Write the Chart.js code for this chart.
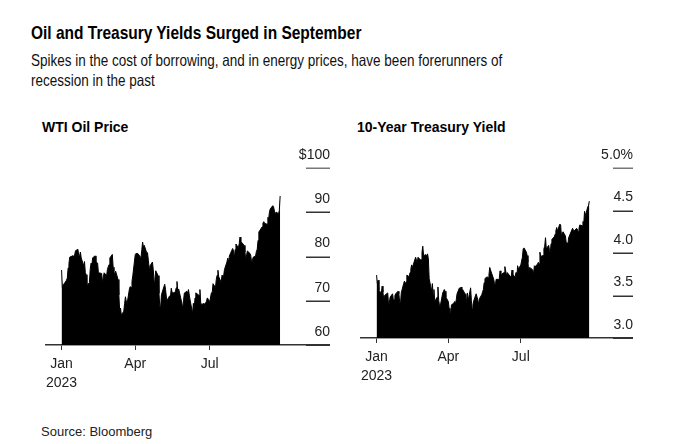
<!DOCTYPE html>
<html>
<head>
<meta charset="utf-8">
<script src="https://cdn.jsdelivr.net/npm/chart.js@4/dist/chart.umd.min.js"></script>
<style>
  body { margin: 0; background: #fff; font-family: 'Liberation Sans', Arial, sans-serif; color: #000; }
  #page { position: relative; width: 685px; height: 444px; overflow: hidden; }
  .txt { position: absolute; white-space: nowrap; }
  /* headline font is a condensed grotesque, squeeze Liberation Sans to match */
  #headline { left: 31px; top: 21px; font: bold 19px/24px 'Liberation Sans', Arial, sans-serif; transform: scaleX(0.815); transform-origin: 0 0; }
  #subtitle { left: 31px; top: 50px; font: 16.5px/20px 'Liberation Sans', Arial, sans-serif; color: #111; transform: scaleX(0.818); transform-origin: 0 0; }
  .panel-title { top: 118px; font: bold 14px/18px 'Liberation Sans', Arial, sans-serif; }
  #source { left: 41px; top: 424px; font: 13px/16px 'Liberation Sans', Arial, sans-serif; color: #222; }
  canvas { position: absolute; }
</style>
</head>
<body>
<div id="page">
  <div id="headline" class="txt">Oil and Treasury Yields Surged in September</div>
  <div id="subtitle" class="txt">Spikes in the cost of borrowing, and in energy prices, have been forerunners of<br>recession in the past</div>
  <div class="txt panel-title" style="left:42px">WTI Oil Price</div>
  <div class="txt panel-title" style="left:357px">10-Year Treasury Yield</div>
  <canvas id="oilChart" width="288" height="255" style="left:42px; top:140px"></canvas>
  <canvas id="yieldChart" width="276" height="248" style="left:357px; top:140px"></canvas>
  <div id="source" class="txt">Source: Bloomberg</div>
</div>

<script>
// daily closes, Jan 3 - Sep 27 2023 (one value per trading day)
const oilPrice = [
  76.93, 72.84, 73.67, 73.77, 74.63, 75.12, 77.41, 78.39, 79.86, 80.18, 79.48, 80.33, 81.31, 81.62, 80.13, 80.15, 81.01, 79.68, 77.90, 78.87,
  76.41, 75.88, 73.39, 74.11, 77.14, 78.47, 78.06, 79.72, 80.14, 79.06, 78.59, 78.49, 76.34, 76.16, 73.95, 75.39, 76.32, 75.68, 77.05,
  77.69, 78.16, 79.68, 80.46, 77.58, 76.66, 75.72, 76.68, 74.80, 71.33, 67.61, 68.35, 66.74, 67.64, 69.33, 70.90, 69.96, 69.26, 72.81, 73.20, 72.97, 74.37, 75.67,
  80.42, 80.71, 80.61, 80.70, 79.74, 81.53, 83.26, 82.16, 82.52, 80.83, 80.86, 79.16, 77.37, 77.87, 78.76, 77.07, 74.30, 74.76, 76.78,
  75.66, 71.66, 68.60, 68.56, 71.34, 73.16, 73.71, 72.56, 70.87, 70.04, 71.11, 70.86, 72.83, 71.86, 71.69, 71.99, 72.91, 74.34, 71.83, 72.67, 69.46, 68.09,
  70.10, 71.74, 72.15, 71.74, 72.53, 71.29, 70.17, 67.12, 69.42, 68.27, 70.62, 71.78, 71.19, 72.53, 69.51, 69.16, 69.37, 67.70, 69.56, 69.86, 70.64,
  69.79, 71.79, 71.80, 73.86, 72.99, 74.83, 75.75, 76.89, 75.42, 74.15, 75.75, 75.35, 75.63, 77.07, 78.74, 79.63, 78.78, 80.09, 80.58, 81.80,
  81.37, 79.49, 81.55, 82.82, 81.94, 82.92, 84.40, 82.82, 83.19, 82.51, 80.99, 79.38, 80.39, 81.25, 80.72, 80.35, 78.89, 79.05, 79.83, 80.10, 81.16, 81.63, 83.63,
  85.55, 86.69, 87.54, 87.87, 87.51, 87.29, 88.84, 88.52, 90.16, 90.77, 91.48, 91.20, 90.28, 89.63, 90.03, 89.68, 90.39, 93.68
];

const treasuryYield = [
  3.74, 3.64, 3.68, 3.56, 3.53, 3.61, 3.54, 3.45, 3.50, 3.53, 3.40, 3.41, 3.48, 3.52, 3.46, 3.45, 3.50, 3.52, 3.55, 3.52,
  3.42, 3.40, 3.53, 3.64, 3.67, 3.63, 3.66, 3.74, 3.72, 3.77, 3.81, 3.86, 3.83, 3.95, 3.92, 3.88, 3.95, 3.92, 3.92,
  4.01, 4.08, 3.97, 3.98, 3.97, 3.99, 3.93, 3.70, 3.55, 3.64, 3.51, 3.57, 3.43, 3.48, 3.60, 3.44, 3.38, 3.38, 3.53, 3.55, 3.57, 3.55, 3.48,
  3.43, 3.35, 3.30, 3.29, 3.39, 3.41, 3.43, 3.40, 3.45, 3.52, 3.59, 3.58, 3.60, 3.54, 3.57, 3.52, 3.40, 3.45, 3.53, 3.44,
  3.59, 3.44, 3.34, 3.39, 3.44, 3.52, 3.52, 3.45, 3.39, 3.46, 3.51, 3.54, 3.57, 3.65, 3.70, 3.72, 3.71, 3.74, 3.83, 3.80, 3.69, 3.64,
  3.61, 3.69, 3.69, 3.70, 3.79, 3.72, 3.75, 3.77, 3.84, 3.79, 3.73, 3.77, 3.72, 3.73, 3.80, 3.74, 3.72, 3.77, 3.71, 3.85, 3.81,
  3.86, 3.95, 4.05, 4.06, 4.01, 3.97, 3.89, 3.76, 3.83, 3.81, 3.80, 3.75, 3.85, 3.84, 3.87, 3.89, 3.87, 4.01, 3.96, 3.97,
  4.05, 4.08, 4.18, 4.05, 4.09, 4.03, 4.01, 4.11, 4.16, 4.19, 4.22, 4.26, 4.30, 4.26, 4.34, 4.33, 4.19, 4.24, 4.25, 4.20, 4.12, 4.12, 4.09,
  4.18, 4.27, 4.29, 4.27, 4.26, 4.29, 4.28, 4.25, 4.29, 4.33, 4.32, 4.37, 4.35, 4.49, 4.44, 4.54, 4.56, 4.61
];

const oilHolidays = ['2023-01-16', '2023-02-20', '2023-04-07', '2023-05-29', '2023-06-19', '2023-07-04', '2023-09-04'];
const bondHolidays = ['2023-01-16', '2023-02-20', '2023-05-29', '2023-06-19', '2023-07-04', '2023-09-04'];

// x ticks: day of year of the first trading day in Jan, Apr, Jul
const monthTicks = [3, 93, 184];
const monthLabels = [['Jan', '2023'], 'Apr', 'Jul'];

const oilTicks = [60, 70, 80, 90, 100];
const yieldTicks = [3.0, 3.5, 4.0, 4.5, 5.0];

// day-of-year for each trading day starting Jan 3
function tradingDays(count, holidays) {
  const out = [];
  const jan1 = Date.UTC(2023, 0, 1);
  let t = Date.UTC(2023, 0, 3);
  while (out.length < count) {
    const d = new Date(t);
    const dow = d.getUTCDay();
    const iso = d.toISOString().slice(0, 10);
    if (dow !== 0 && dow !== 6 && !holidays.includes(iso)) {
      out.push((t - jan1) / 864e5 + 1);
    }
    t += 864e5;
  }
  return out;
}

// short marks at the right end of each y gridline
const rightMarks = {
  id: 'rightMarks',
  afterDatasetsDraw(chart, args, opts) {
    const { ctx, chartArea, scales: { y } } = chart;
    ctx.save();
    ctx.lineWidth = 1.5;
    y.ticks.forEach((t, i) => {
      const py = Math.round(y.getPixelForValue(t.value)) + 0.25;
      ctx.strokeStyle = i === y.ticks.length - 1 ? '#777' : '#333';
      ctx.beginPath();
      ctx.moveTo(chartArea.right - opts.len, py);
      ctx.lineTo(chartArea.right, py);
      ctx.stroke();
    });
    ctx.restore();
  }
};

function makeChart(id, values, holidays, xRange, yTicks, fmt, markLen) {
  const days = tradingDays(values.length, holidays);
  const points = values.map((v, i) => ({ x: days[i], y: v }));
  const font = { family: "'Liberation Sans', Arial, sans-serif", size: 14, lineHeight: 1.4 };

  return new Chart(document.getElementById(id), {
    type: 'line',
    data: {
      datasets: [{
        data: points,
        fill: 'start',
        backgroundColor: '#000',
        borderColor: '#000',
        borderWidth: 1,
        pointRadius: 0,
        tension: 0
      }]
    },
    plugins: [rightMarks],
    options: {
      responsive: false,
      animation: false,
      devicePixelRatio: 1,
      layout: { padding: { top: 28, left: 0, right: 0, bottom: 0 } },
      plugins: {
        legend: { display: false },
        tooltip: { enabled: false },
        rightMarks: { len: markLen }
      },
      scales: {
        x: {
          type: 'linear',
          min: xRange[0],
          max: xRange[1],
          afterBuildTicks: (axis) => { axis.ticks = monthTicks.map((v) => ({ value: v })); },
          afterFit: (axis) => { axis.height = 50; },
          ticks: {
            autoSkip: false,
            maxRotation: 0,
            padding: 4,
            color: '#222',
            font: font,
            callback: (v, i) => monthLabels[i]
          },
          grid: { drawOnChartArea: false, drawTicks: true, tickLength: 5, color: '#333', lineWidth: 1 },
          border: { display: true, color: '#333', width: 1.5 }
        },
        y: {
          position: 'right',
          min: yTicks[0],
          max: yTicks[yTicks.length - 1],
          afterBuildTicks: (axis) => { axis.ticks = yTicks.map((v) => ({ value: v })); },
          afterFit: (axis) => { axis.width = 0; },
          ticks: {
            mirror: true,
            padding: 0,
            labelOffset: -13,
            color: '#222',
            font: font,
            callback: fmt
          },
          grid: { display: false },
          border: { display: false }
        }
      }
    }
  });
}

makeChart('oilChart', oilPrice, oilHolidays, [-16.9, 330.9], oilTicks,
  (v) => (v === 100 ? '$100' : String(v)), 24);

makeChart('yieldChart', treasuryYield, bondHolidays, [-17.2, 324.8], yieldTicks,
  (v) => (v === 5 ? '5.0%' : v.toFixed(1)), 20);
</script>
</body>
</html>
